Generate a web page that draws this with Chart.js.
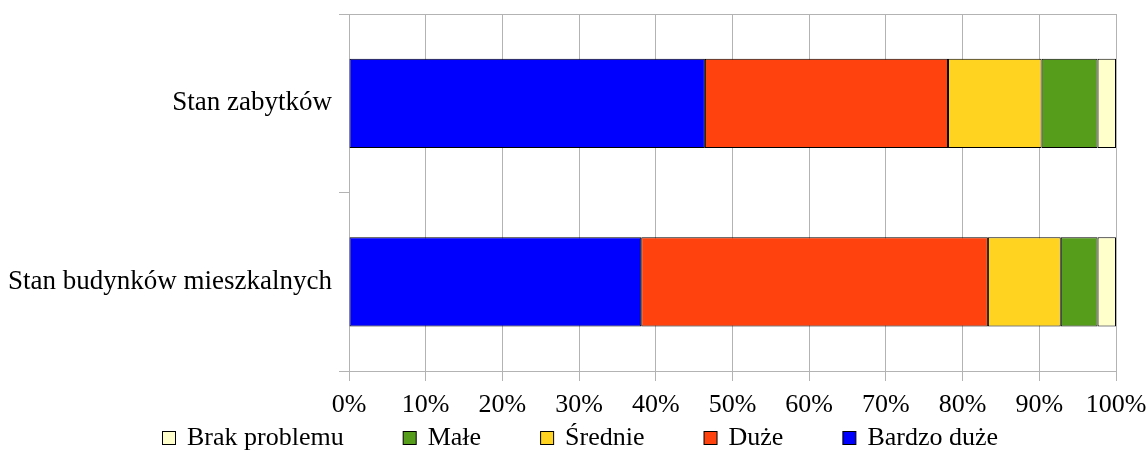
<!DOCTYPE html>
<html>
<head>
<meta charset="utf-8">
<script src="https://cdn.jsdelivr.net/npm/chart.js@4.4.1/dist/chart.umd.min.js"></script>
<style>
html,body{margin:0;padding:0;background:#ffffff;}
#wrap{width:1146px;height:452px;}
</style>
</head>
<body>
<div id="wrap"><canvas id="c" width="1146" height="452"></canvas></div>
<script>
// ---- data ----
const categories = ['Stan zabytków', 'Stan budynków mieszkalnych'];
const seriesNames = ['Bardzo duże', 'Duże', 'Średnie', 'Małe', 'Brak problemu'];
const bardzoDuze = [46.4, 38.1];
const duze = [31.7, 45.2];
const srednie = [12.2, 9.5];
const male = [7.3, 4.8];
const brakProblemu = [2.4, 2.4];
const seriesColors = ['#0000ff', '#ff420e', '#ffd320', '#579d1c', '#ffffcc'];
const xTickValues = [0, 10, 20, 30, 40, 50, 60, 70, 80, 90, 100];

const seriesValues = [bardzoDuze, duze, srednie, male, brakProblemu];
const FONT = '"Liberation Serif", "Times New Roman", serif';
const GRID = '#b3b3b3';

const datasets = seriesNames.map((name, i) => ({
  label: name,
  data: seriesValues[i],
  backgroundColor: seriesColors[i],
  borderColor: '#000000',
  borderWidth: 1,
  borderSkipped: false,
  barPercentage: 0.5,
  categoryPercentage: 1.0
}));

const frameAndLegend = {
  id: 'frameAndLegend',
  afterDraw(chart) {
    const ctx = chart.ctx;
    const a = chart.chartArea;
    ctx.save();
    // top frame line
    ctx.strokeStyle = GRID;
    ctx.lineWidth = 1;
    ctx.beginPath();
    ctx.moveTo(a.left, Math.round(a.top) + 0.5);
    ctx.lineTo(a.right, Math.round(a.top) + 0.5);
    ctx.stroke();
    // legend (reverse order of stacking)
    ctx.font = '26px ' + FONT;
    ctx.textBaseline = 'middle';
    ctx.textAlign = 'left';
    const items = chart.data.datasets.map(d => ({label: d.label, color: d.backgroundColor})).reverse();
    const box = 13, textGap = 12, gap = 59;
    const widths = items.map(it => box + textGap + ctx.measureText(it.label).width);
    const total = widths.reduce((s, w) => s + w, 0) + gap * (items.length - 1);
    let x = Math.round(chart.width / 2 + 7 - total / 2);
    const yc = 438;
    items.forEach((it, i) => {
      ctx.fillStyle = it.color;
      ctx.fillRect(x + 0.5, yc - 6.5, box, box);
      ctx.strokeStyle = '#000000';
      ctx.lineWidth = 1;
      ctx.strokeRect(x + 0.5, yc - 6.5, box, box);
      ctx.fillStyle = '#000000';
      ctx.fillText(it.label, x + box + textGap, yc);
      x += widths[i] + gap;
    });
    ctx.restore();
  }
};

new Chart(document.getElementById('c'), {
  type: 'bar',
  data: { labels: categories, datasets: datasets },
  plugins: [frameAndLegend],
  options: {
    indexAxis: 'y',
    responsive: false,
    animation: false,
    devicePixelRatio: 1,
    layout: { padding: { top: 14, right: 30, left: 0, bottom: 31 } },
    plugins: {
      legend: { display: false },
      tooltip: { enabled: false },
      title: { display: false }
    },
    scales: {
      x: {
        stacked: true,
        min: 0,
        max: 100,
        afterBuildTicks(scale) { scale.ticks = xTickValues.map(v => ({ value: v })); },
        afterFit(scale) {
          scale.height = 50;
          scale.paddingLeft = 0; scale.paddingRight = 0;
        },
        grid: { color: GRID, lineWidth: 1, tickLength: 10, drawTicks: true },
        border: { display: true, color: GRID },
        ticks: {
          color: '#000000',
          font: { family: FONT, size: 26 },
          padding: 9,
          maxRotation: 0,
          callback: v => v + '%'
        }
      },
      y: {
        stacked: true,
        afterFit(scale) {
          scale.width = 349;
          scale.paddingTop = 0; scale.paddingBottom = 0;
        },
        grid: { color: GRID, drawOnChartArea: false, drawTicks: true, tickLength: 10, offset: true },
        border: { display: true, color: GRID },
        ticks: {
          color: '#000000',
          font: { family: FONT, size: 27 },
          padding: 7
        }
      }
    }
  }
});
</script>
</body>
</html>
